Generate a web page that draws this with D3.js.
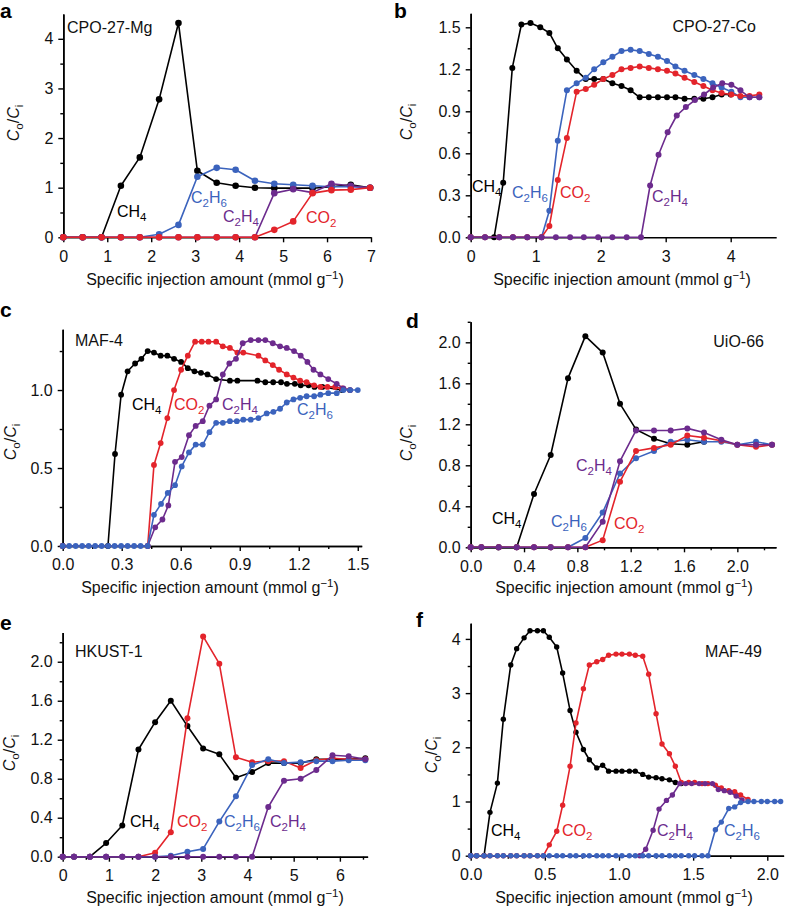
<!DOCTYPE html>
<html><head><meta charset="utf-8">
<script src="https://cdn.jsdelivr.net/npm/d3@7/dist/d3.min.js"></script>
<style>
html,body{margin:0;padding:0;background:#fff;}
svg{display:block;font-family:"Liberation Sans",Arial,Helvetica,sans-serif;}
</style></head>
<body>
<svg id="c" width="788" height="909"></svg>
<script>
// ---------- Panel a : CPO-27-Mg ----------
const aX     = [0,0.44,0.87,1.31,1.74,2.18,2.62,3.05,3.49,3.92,4.36,4.80,5.23,5.67,6.10,6.54,6.98];
const aCH4   = [0,0,0,1.04,1.61,2.78,4.32,1.34,1.10,1.04,1.00,0.99,0.99,0.99,1.02,1.06,1.00];
const aC2H6  = [0,0,0,0,0,0.06,0.25,1.22,1.40,1.36,1.14,1.08,1.06,1.04,1.02,1.02,1.00];
const aC2H4  = [0,0,0,0,0,0,0,0,0,0,0,0.89,0.97,0.90,1.08,1.04,1.00];
const aCO2   = [0,0,0,0,0,0,0,0,0,0,0,0.15,0.32,0.89,0.95,0.96,1.00];
const aXTicks = [0,1,2,3,4,5,6,7];
const aYTicks = [0,1,2,3,4];
const aYMinor = [0.5,1.5,2.5,3.5];

// ---------- Panel b : CPO-27-Co ----------
const bXCH4  = [0,0.36,0.50,0.64,0.78,0.92,1.07,1.21,1.34,1.48,1.63,1.77,1.90,2.04,2.18,2.32,2.46,2.60,2.74,2.88,3.02,3.15,3.29,3.44,3.58,3.72,3.86,4.00];
const bCH4   = [0,0,0.39,1.21,1.52,1.53,1.50,1.46,1.35,1.27,1.19,1.13,1.13,1.13,1.10,1.08,1.05,1.00,1.00,1.00,1.00,1.00,0.99,0.99,0.99,1.00,1.02,1.02];
const bXRest = [0,0.22,0.44,0.65,0.87,1.09,1.21,1.34,1.48,1.63,1.77,1.90,2.04,2.18,2.32,2.46,2.60,2.74,2.88,3.02,3.15,3.29,3.44,3.58,3.72,3.86,4.01,4.15,4.29,4.44];
const bC2H6  = [0,0,0,0,0,0,0.19,0.69,1.05,1.10,1.14,1.20,1.25,1.29,1.33,1.34,1.33,1.31,1.29,1.26,1.22,1.19,1.16,1.13,1.10,1.07,1.04,1.00,1.00,1.00];
const bCO2   = [0,0,0,0,0,0,0.08,0.41,0.71,1.04,1.06,1.09,1.13,1.16,1.20,1.21,1.22,1.21,1.20,1.19,1.17,1.14,1.11,1.08,1.05,1.03,1.02,1.01,1.01,1.02];
const bXC2H4 = [0,0.22,0.44,0.65,0.87,1.09,1.31,1.53,1.74,1.96,2.18,2.40,2.62,2.76,2.89,3.03,3.17,3.31,3.45,3.59,3.73,3.87,4.01,4.15,4.29,4.44];
const bC2H4  = [0,0,0,0,0,0,0,0,0,0,0,0,0,0.37,0.59,0.75,0.87,0.93,0.98,1.02,1.07,1.10,1.09,1.05,1.00,1.00];
const bXTicks = [0,1,2,3,4];
const bYTicks = [0,0.3,0.6,0.9,1.2,1.5];
const bYMinor = [0.15,0.45,0.75,1.05,1.35];

// ---------- Panel c : MAF-4 ----------
const cXCH4  = [0,0.23,0.266,0.297,0.33,0.368,0.40,0.432,0.464,0.498,0.532,0.566,0.602,0.636,0.67,0.703,0.736,0.78,0.85,0.888,0.99,1.03,1.07,1.11,1.14,1.18,1.21,1.25,1.28,1.32,1.42];
const cCH4   = [0,0,0.59,0.97,1.12,1.17,1.20,1.25,1.24,1.22,1.22,1.20,1.18,1.14,1.12,1.11,1.10,1.07,1.06,1.06,1.06,1.05,1.05,1.05,1.04,1.04,1.03,1.03,1.02,1.02,1.00];
const cXCO2  = [0,0.432,0.464,0.498,0.532,0.566,0.602,0.636,0.673,0.707,0.741,0.78,0.814,0.85,0.888,0.918,0.995,1.03,1.068,1.10,1.139,1.173,1.207,1.24,1.278,1.31,1.346,1.385,1.42,1.46];
const cCO2   = [0,0,0.52,0.66,0.82,1.00,1.13,1.22,1.31,1.31,1.31,1.31,1.28,1.27,1.24,1.24,1.22,1.19,1.16,1.13,1.10,1.08,1.06,1.05,1.03,1.02,1.02,1.02,1.01,1.00];
const cXC2H4 = [0,0.432,0.47,0.507,0.537,0.571,0.605,0.642,0.676,0.712,0.746,0.78,0.814,0.847,0.881,0.915,0.956,0.995,1.03,1.068,1.105,1.139,1.176,1.21,1.244,1.275,1.31,1.35,1.393,1.427,1.461];
const cC2H4  = [0,0,0.12,0.17,0.26,0.54,0.57,0.71,0.77,0.80,0.90,0.94,1.10,1.17,1.20,1.30,1.32,1.32,1.32,1.30,1.28,1.27,1.25,1.22,1.18,1.13,1.10,1.07,1.04,1.01,1.00];
const cXC2H6 = [0,0.033,0.066,0.099,0.132,0.165,0.198,0.231,0.264,0.297,0.33,0.363,0.396,0.432,0.464,0.50,0.534,0.571,0.605,0.642,0.676,0.712,0.746,0.78,0.814,0.85,0.885,0.918,0.956,0.995,1.037,1.071,1.105,1.139,1.173,1.207,1.24,1.278,1.31,1.35,1.393,1.427,1.461,1.50];
const cC2H6  = [0,0,0,0,0,0,0,0,0,0,0,0,0,0,0.20,0.27,0.34,0.39,0.51,0.60,0.65,0.65,0.73,0.79,0.79,0.80,0.80,0.81,0.81,0.82,0.85,0.86,0.88,0.92,0.94,0.95,0.96,0.96,0.97,0.98,0.98,1.00,1.00,1.00];
const cXTicks = [0,0.3,0.6,0.9,1.2,1.5];
const cXMinor = [0.15,0.45,0.75,1.05,1.35];
const cYTicks = [0,0.5,1.0];
const cYMinor = [0.25,0.75,1.25];

// ---------- Panel d : UiO-66 ----------
const dX     = [0,0.08,0.21,0.345,0.475,0.60,0.73,0.86,0.99,1.12,1.24,1.375,1.50,1.625,1.75,1.88,2.00,2.14,2.26];
const dXCH4  = [0,0.08,0.21,0.345,0.475,0.60,0.73,0.86,0.99,1.12,1.24,1.375,1.50,1.625,1.75];
const dCH4   = [0,0,0,0,0.52,0.90,1.65,2.06,1.90,1.40,1.15,1.06,1.01,1.00,1.03];
const dC2H6  = [0,0,0,0,0,0,0,0.09,0.34,0.72,0.87,0.94,1.03,1.05,1.03,1.03,1.00,1.03,1.00];
const dCO2   = [0,0,0,0,0,0,0,0,0.07,0.64,0.94,0.97,1.00,1.09,1.07,1.04,1.00,0.98,1.00];
const dC2H4  = [0,0,0,0,0,0,0,0,0.25,0.84,1.14,1.14,1.14,1.16,1.12,1.05,1.00,1.00,1.00];
const dXTicks = [0,0.4,0.8,1.2,1.6,2.0];
const dXMinor = [0.2,0.6,1.0,1.4,1.8,2.2];
const dYTicks = [0,0.4,0.8,1.2,1.6,2.0];
const dYMinor = [0.2,0.6,1.0,1.4,1.8,2.2];

// ---------- Panel e : HKUST-1 ----------
const eX     = [0,0.245,0.59,0.94,1.29,1.64,2.00,2.34,2.70,3.04,3.39,3.75,4.10,4.45,4.79,5.15,5.49,5.84,6.19,6.55];
const eCH4   = [0,0,0,0.14,0.32,1.10,1.38,1.60,1.34,1.11,1.05,0.81,0.87,0.96,0.96,0.96,1.00,1.00,1.00,1.01];
const eCO2   = [0,0,0,0,0,0,0.04,0.25,1.42,2.26,1.98,1.02,0.97,0.98,0.98,0.91,0.99,1.01,1.00,1.00];
const eC2H6  = [0,0,0,0,0,0,0,0.01,0.05,0.08,0.36,0.62,0.94,1.00,0.96,0.97,0.98,0.98,0.99,0.99];
const eC2H4  = [0,0,0,0,0,0,0,0,0,0,0,0,0,0.51,0.78,0.80,0.89,1.04,1.03,1.00];
const eXTicks = [0,1,2,3,4,5,6];
const eXMinor = [0.5,1.5,2.5,3.5,4.5,5.5,6.5];
const eYTicks = [0,0.4,0.8,1.2,1.6,2.0];
const eYMinor = [0.2,0.6,1.0,1.4,1.8,2.2];

// ---------- Panel f : MAF-49 ----------
const fX     = [0,0.04,0.09,0.13,0.18,0.22,0.27,0.31,0.36,0.40,0.45,0.49,0.53,0.58,0.62,0.67,0.71,0.76,0.80,0.85,0.89,0.93,0.98,1.02,1.07,1.11,1.16,1.20,1.25,1.29,1.34,1.38,1.42,1.47,1.51,1.56,1.60,1.65,1.69,1.74,1.78,1.82,1.87,1.91,1.96,2.00,2.05,2.09];
const fXCH4  = [0,0.04,0.09,0.13,0.18,0.22,0.27,0.31,0.36,0.40,0.45,0.49,0.53,0.58,0.62,0.67,0.71,0.76,0.80,0.85,0.89,0.93,0.98,1.02,1.07,1.11,1.16,1.20,1.25,1.29,1.34,1.38,1.42];
const fCH4   = [0,0,0,0.80,1.34,2.52,3.52,3.82,4.02,4.15,4.15,4.15,4.03,3.85,3.37,2.68,2.28,1.96,1.77,1.62,1.67,1.56,1.56,1.56,1.56,1.56,1.50,1.45,1.44,1.42,1.40,1.35,1.33];
const fXCO2  = [0,0.04,0.09,0.13,0.18,0.22,0.27,0.31,0.36,0.40,0.45,0.49,0.53,0.58,0.62,0.67,0.71,0.76,0.80,0.85,0.89,0.93,0.98,1.02,1.07,1.11,1.16,1.20,1.25,1.29,1.34,1.38,1.42,1.47,1.51,1.56,1.60,1.65,1.69,1.74,1.78,1.82,1.87];
const fCO2   = [0,0,0,0,0,0,0,0,0,0,0,0,0.20,0.45,0.93,1.65,2.45,3.08,3.52,3.58,3.62,3.70,3.72,3.72,3.72,3.70,3.68,3.35,2.62,2.06,1.88,1.65,1.35,1.35,1.35,1.33,1.33,1.30,1.25,1.20,1.18,1.12,1.04];
const fXC2H4 = [0,1.14,1.18,1.23,1.27,1.32,1.36,1.41,1.45,1.49,1.54,1.58,1.63,1.67,1.71,1.75,1.79,1.83];
const fC2H4  = [0,0,0.12,0.47,0.86,1.02,1.12,1.33,1.33,1.33,1.33,1.33,1.33,1.22,1.20,1.17,1.10,1.03];
const fC2H6  = [0,0,0,0,0,0,0,0,0,0,0,0,0,0,0,0,0,0,0,0,0,0,0,0,0,0,0,0,0,0,0,0,0,0,0,0,0,0.48,0.62,0.87,0.90,0.98,1.00,1.00,1.00,1.00,1.00,1.00];
const fXTicks = [0,0.5,1.0,1.5,2.0];
const fXMinor = [0.25,0.75,1.25,1.75];
const fYTicks = [0,1,2,3,4];
const fYMinor = [0.5,1.5,2.5,3.5];

// ---------- colours ----------
const COL = {CH4:"#000000", C2H6:"#3b63bd", C2H4:"#6c2b8d", CO2:"#e3242b"};

const svg = d3.select("#c");
const F = 16;

function formula(t, str){
  const parts = str.match(/\d+|\D+/g);
  let sub = false;
  parts.forEach(p=>{
    const ts = t.append("tspan").text(p);
    if (/\d/.test(p)) { ts.attr("font-size", 11.5).attr("dy", 4); sub = true; }
    else if (sub) { ts.attr("dy", -4); sub = false; }
  });
}

const panels = [
 {letter:"a", lx:0, ly:18, name:"CPO-27-Mg", nx:67, ny:33, nanchor:"start",
  xr:[63.3,371], yr:[237.3,14], xd:[0,7], yd:[0,4.5],
  xt:aXTicks, xm:[], yt:aYTicks, ym:aYMinor, xf:d3.format("d"), yf:d3.format("d"),
  ylab:[13,123], xlab:[215,285], r:3.3,
  series:[["CH4",aX,aCH4],["C2H6",aX,aC2H6],["C2H4",aX,aC2H4],["CO2",aX,aCO2]],
  labels:[["CH4",117,217],["C2H6",191,203],["C2H4",223,222],["CO2",306,223]]},
 {letter:"b", lx:394, ly:18, name:"CPO-27-Co", nx:756, ny:32, nanchor:"end",
  xr:[470.7,776.2], yr:[237.3,13.3], xd:[0,4.7], yd:[0,1.6],
  xt:bXTicks, xm:[], yt:bYTicks, ym:bYMinor, xf:d3.format("d"), yf:d3.format(".1f"),
  ylab:[406,122], xlab:[622,285], r:3.0,
  series:[["CH4",bXCH4,bCH4],["C2H6",bXRest,bC2H6],["CO2",bXRest,bCO2],["C2H4",bXC2H4,bC2H4]],
  labels:[["CH4",472,192],["C2H6",512,198],["CO2",560,198],["C2H4",652,202]]},
 {letter:"c", lx:0, ly:317, name:"MAF-4", nx:75, ny:346, nanchor:"start",
  xr:[62.7,361.7], yr:[546,329.2], xd:[0,1.52], yd:[0,1.39],
  xt:cXTicks, xm:cXMinor, yt:cYTicks, ym:cYMinor, xf:d3.format(".1f"), yf:d3.format(".1f"),
  ylab:[10,442], xlab:[210,593], r:2.9,
  series:[["CH4",cXCH4,cCH4],["CO2",cXCO2,cCO2],["C2H4",cXC2H4,cC2H4],["C2H6",cXC2H6,cC2H6]],
  labels:[["CH4",132,410],["CO2",174,410],["C2H4",222,410],["C2H6",297,415]]},
 {letter:"d", lx:406, ly:328, name:"UiO-66", nx:764, ny:347, nanchor:"end",
  xr:[470.7,776], yr:[547.3,321.8], xd:[0,2.29], yd:[0,2.2],
  xt:dXTicks, xm:dXMinor, yt:dYTicks, ym:dYMinor, xf:d3.format(".1f"), yf:d3.format(".1f"),
  ylab:[406,443], xlab:[624,593], r:3.0,
  series:[["CH4",dXCH4,dCH4],["C2H6",dX,dC2H6],["CO2",dX,dCO2],["C2H4",dX,dC2H4]],
  labels:[["C2H4",576,471],["CH4",492,524],["C2H6",551,527],["CO2",614,529]]},
 {letter:"e", lx:0, ly:630, name:"HKUST-1", nx:75, ny:657, nanchor:"start",
  xr:[62.7,367.6], yr:[856.7,632.5], xd:[0,6.6], yd:[0,2.3],
  xt:eXTicks, xm:eXMinor, yt:eYTicks, ym:eYMinor, xf:d3.format("d"), yf:d3.format(".1f"),
  ylab:[9,753], xlab:[215,903], r:3.0,
  series:[["CH4",eX,eCH4],["CO2",eX,eCO2],["C2H6",eX,eC2H6],["C2H4",eX,eC2H4]],
  labels:[["CH4",130,827],["CO2",177,827],["C2H6",224,827],["C2H4",270,827]]},
 {letter:"f", lx:416, ly:627, name:"MAF-49", nx:762, ny:657, nanchor:"end",
  xr:[470.7,783.6], yr:[855.7,623.2], xd:[0,2.11], yd:[0,4.29],
  xt:fXTicks, xm:fXMinor, yt:fYTicks, ym:fYMinor, xf:d3.format(".1f"), yf:d3.format("d"),
  ylab:[431,755], xlab:[624,903], r:2.7,
  series:[["CH4",fXCH4,fCH4],["CO2",fXCO2,fCO2],["C2H4",fXC2H4,fC2H4],["C2H6",fX,fC2H6]],
  labels:[["CH4",491,836],["CO2",562,836],["C2H4",657,836],["C2H6",724,836]]}
];

panels.forEach(p=>{
  const x = d3.scaleLinear().domain(p.xd).range(p.xr);
  const y = d3.scaleLinear().domain(p.yd).range(p.yr);
  const g = svg.append("g");

  // axes
  const xa = g.append("g").attr("transform",`translate(0,${p.yr[0]})`)
    .call(d3.axisBottom(x).tickValues(p.xt).tickSize(5).tickSizeOuter(0).tickPadding(8).tickFormat(p.xf));
  if (p.xm.length) g.append("g").attr("transform",`translate(0,${p.yr[0]})`)
    .call(d3.axisBottom(x).tickValues(p.xm).tickSize(3).tickSizeOuter(0).tickFormat(""));
  const ya = g.append("g").attr("transform",`translate(${p.xr[0]},0)`)
    .call(d3.axisLeft(y).tickValues(p.yt).tickSize(5).tickSizeOuter(0).tickPadding(5).tickFormat(p.yf));
  if (p.ym.length) g.append("g").attr("transform",`translate(${p.xr[0]},0)`)
    .call(d3.axisLeft(y).tickValues(p.ym).tickSize(3).tickSizeOuter(0).tickFormat(""));
  g.selectAll(".domain").attr("stroke","#000").attr("stroke-width",1.6);
  g.selectAll(".tick line").attr("stroke","#000").attr("stroke-width",1.4);
  g.selectAll(".tick text").attr("font-size",F).attr("fill","#111")
    .attr("font-family","'Liberation Sans',Arial,sans-serif");

  // series
  const line = d3.line().x(d=>x(d[0])).y(d=>y(d[1]));
  p.series.forEach(([k,xs,ys])=>{
    const pts = xs.map((v,i)=>[v,ys[i]]);
    g.append("path").datum(pts).attr("d",line).attr("fill","none")
      .attr("stroke",COL[k]).attr("stroke-width",1.6).attr("stroke-linejoin","round");
    g.append("g").selectAll("circle").data(pts).join("circle")
      .attr("cx",d=>x(d[0])).attr("cy",d=>y(d[1])).attr("r",p.r).attr("fill",COL[k]);
  });

  // series labels
  p.labels.forEach(([k,lx,ly])=>{
    const t = g.append("text").attr("x",lx).attr("y",ly).attr("font-size",F).attr("fill",COL[k]);
    formula(t,k);
  });

  // panel name and letter
  g.append("text").attr("x",p.nx).attr("y",p.ny).attr("text-anchor",p.nanchor)
    .attr("font-size",F).attr("fill","#111").text(p.name);
  g.append("text").attr("x",p.lx).attr("y",p.ly).attr("font-size",21).attr("font-weight","bold")
    .attr("fill","#000").text(p.letter);

  // y label
  const yl = g.append("text").attr("transform",`translate(${p.ylab[0]},${p.ylab[1]}) rotate(-90)`)
    .attr("text-anchor","middle").attr("font-size",F).attr("fill","#111").attr("dy","0.35em");
  yl.append("tspan").attr("font-style","italic").text("C");
  yl.append("tspan").attr("font-size",11.5).attr("dy",4).text("o");
  yl.append("tspan").attr("dy",-4).text("/");
  yl.append("tspan").attr("font-style","italic").text("C");
  yl.append("tspan").attr("font-size",11.5).attr("dy",4).text("i");

  // x label
  const xl = g.append("text").attr("x",p.xlab[0]).attr("y",p.xlab[1]).attr("text-anchor","middle")
    .attr("font-size",F).attr("fill","#111");
  xl.append("tspan").text("Specific injection amount (mmol g");
  xl.append("tspan").attr("font-size",11.5).attr("dy",-6).text("\u22121");
  xl.append("tspan").attr("dy",6).text(")");
});
</script>
</body></html>
